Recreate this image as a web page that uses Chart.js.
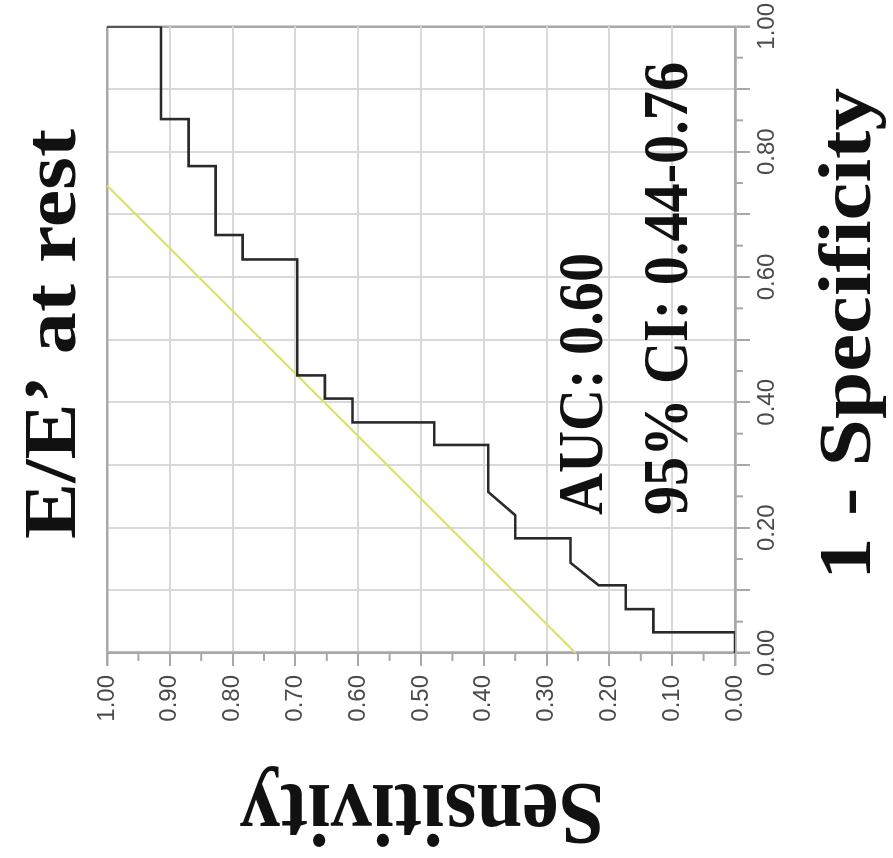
<!DOCTYPE html>
<html>
<head>
<meta charset="utf-8">
<script src="https://cdn.jsdelivr.net/npm/chart.js@4.4.0/dist/chart.umd.min.js"></script>
<style>
html, body { margin: 0; padding: 0; background: #fff; overflow: hidden; }
/* the figure is printed turned a quarter turn, so the whole chart is turned too */
#wrap { position: absolute; left: 0; top: 0; width: 858px; height: 893px;
  transform-origin: 0 0; transform: translate(0, 858px) rotate(-90deg); }
canvas { display: block; }
</style>
</head>
<body>
<div id="wrap"><canvas id="roc_chart" width="858" height="893"></canvas></div>
<script>
// ROC curve: x = 1 - specificity, y = sensitivity
const fpr  = [0, 0.033, 0.033, 0.070, 0.070, 0.108, 0.108, 0.144, 0.183, 0.183, 0.220, 0.257, 0.332, 0.332, 0.368,
              0.368, 0.406, 0.406, 0.443, 0.443, 0.628, 0.628, 0.667, 0.667, 0.777, 0.777, 0.852, 0.852, 1.000, 1.000];
const sens = [0, 0, 0.130, 0.130, 0.174, 0.174, 0.217, 0.262, 0.262, 0.350, 0.350, 0.393, 0.393, 0.479, 0.479,
              0.609, 0.609, 0.653, 0.653, 0.697, 0.697, 0.784, 0.784, 0.827, 0.827, 0.870, 0.870, 0.914, 0.914, 1.000];
// yellow reference line
const ref_fpr  = [0, 0.746];
const ref_sens = [0.254, 1.000];

const fpr_labels  = [0, 0.2, 0.4, 0.6, 0.8, 1.0];
const sens_labels = [0, 0.1, 0.2, 0.3, 0.4, 0.5, 0.6, 0.7, 0.8, 0.9, 1.0];

const chart_title = 'E/E’ at rest';
const x_title = '1 - Specificity';
const y_title = 'Sensitivity';
const auc_text = 'AUC: 0.60';
const ci_text = '95% CI: 0.44-0.76';

const GRID = '#d9d9d9';
const AXIS = '#a8a8a8';
const TICK_FONT = { family: "'Liberation Sans', Arial, sans-serif", size: 24 };
const SERIF = "'Liberation Serif', 'Times New Roman', serif";

function step20(v) { return Math.round(v * 20); }
function grid_color(ctx) {
    const k = step20(ctx.tick.value);
    if (k === 0 || k === 20) return AXIS;
    return k % 2 === 0 ? GRID : 'rgba(0,0,0,0)';
}
function grid_width(ctx) {
    const k = step20(ctx.tick.value);
    return (k === 0 || k === 20) ? 2.5 : 2;
}
function tick_color(ctx) {
    return step20(ctx.tick.value) % 2 === 0 ? AXIS : 'rgba(0,0,0,0)';
}
function in_list(list, v) {
    return list.some(l => Math.abs(l - v) < 1e-6);
}

// short ticks half way between the long ones
const minor_ticks = {
    id: 'minor_ticks',
    afterDraw(chart) {
        const { ctx, chartArea, scales } = chart;
        ctx.save();
        ctx.strokeStyle = AXIS;
        ctx.lineWidth = 2;
        scales.x.ticks.forEach(t => {
            if (step20(t.value) % 2 === 0) return;
            const px = scales.x.getPixelForValue(t.value);
            ctx.beginPath();
            ctx.moveTo(px, chartArea.bottom);
            ctx.lineTo(px, chartArea.bottom + 8);
            ctx.stroke();
        });
        scales.y.ticks.forEach(t => {
            if (step20(t.value) % 2 === 0) return;
            const py = scales.y.getPixelForValue(t.value);
            ctx.beginPath();
            ctx.moveTo(chartArea.left - 8, py);
            ctx.lineTo(chartArea.left, py);
            ctx.stroke();
        });
        ctx.restore();
    }
};

function stretched_text(ctx, text, x, y, size, length, align) {
    ctx.save();
    ctx.font = 'bold ' + size + 'px ' + SERIF;
    const w = ctx.measureText(text).width;
    ctx.translate(x, y);
    ctx.scale(length / w, 1);
    ctx.textAlign = align;
    ctx.textBaseline = 'alphabetic';
    ctx.fillStyle = '#111';
    ctx.fillText(text, 0, 0);
    ctx.restore();
}

// big serif captions (they are squeezed/stretched in the printed figure)
const captions = {
    id: 'captions',
    afterDraw(chart) {
        const ctx = chart.ctx;
        stretched_text(ctx, chart_title, 524, 75, 74, 410, 'center');
        stretched_text(ctx, x_title, 524, 870, 75, 492, 'center');
        ctx.save();
        ctx.translate(73, 422);
        ctx.rotate(-Math.PI / 2);
        stretched_text(ctx, y_title, 0, 0, 88, 365, 'center');
        ctx.restore();
        stretched_text(ctx, auc_text, 343, 602, 63, 262, 'left');
        stretched_text(ctx, ci_text, 343, 687, 64, 453, 'left');
    }
};

const roc_canvas = document.querySelector('#roc_chart');
let chart = new Chart(roc_canvas.getContext('2d'), {
    type: 'scatter',
    data: {
        datasets: [{
            label: 'ROC',
            data: fpr.map((x, i) => ({ x: x, y: sens[i] })),
            showLine: true,
            borderColor: '#2a2a2a',
            borderWidth: 2.6,
            pointRadius: 0,
            tension: 0,
            order: 1
        }, {
            label: 'reference',
            data: ref_fpr.map((x, i) => ({ x: x, y: ref_sens[i] })),
            showLine: true,
            borderColor: '#e0df6c',
            borderWidth: 2.2,
            pointRadius: 0,
            order: 2
        }]
    },
    options: {
        responsive: false,
        animation: false,
        layout: { padding: { top: 107, right: 26, left: 0, bottom: 0 } },
        plugins: { legend: { display: false }, tooltip: { enabled: false } },
        scales: {
            x: {
                type: 'linear', min: 0, max: 1,
                ticks: {
                    stepSize: 0.05, autoSkip: false, maxRotation: 0, padding: 3,
                    font: TICK_FONT, color: '#4a4a4a',
                    callback: (v) => in_list(fpr_labels, v) ? v.toFixed(2) : ''
                },
                grid: { color: grid_color, lineWidth: grid_width, tickColor: tick_color, tickLength: 15 },
                border: { color: AXIS, width: 2.5 },
                afterFit: (s) => { s.height = 158; }
            },
            y: {
                type: 'linear', min: 0, max: 1,
                ticks: {
                    stepSize: 0.05, autoSkip: false, padding: 9,
                    font: TICK_FONT, color: '#4a4a4a',
                    callback: (v) => in_list(sens_labels, v) ? v.toFixed(2) : ''
                },
                grid: { color: grid_color, lineWidth: grid_width, tickColor: tick_color, tickLength: 13 },
                border: { color: AXIS, width: 2.5 },
                afterFit: (s) => { s.width = 205; }
            }
        }
    },
    plugins: [minor_ticks, captions]
});
</script>
</body>
</html>
